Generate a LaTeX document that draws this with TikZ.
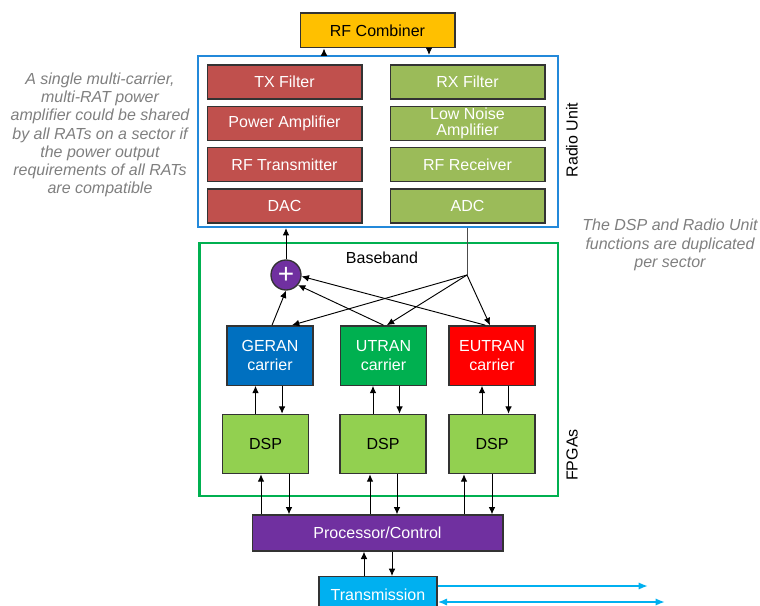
\documentclass[tikz,border=0pt]{standalone}
\usepackage{fontspec}
\setmainfont{Liberation Sans}
\usetikzlibrary{arrows.meta, positioning, calc}
\definecolor{combYellow}{HTML}{FFC000}
\definecolor{ruBlue}{HTML}{2389DA}
\definecolor{txRed}{HTML}{C0504D}
\definecolor{rxGreen}{HTML}{9BBB59}
\definecolor{bbGreen}{HTML}{00B050}
\definecolor{rfPurple}{HTML}{7030A0}
\definecolor{geranBlue}{HTML}{0070C0}
\definecolor{utranGreen}{HTML}{00B050}
\definecolor{eutranRed}{HTML}{FF0000}
\definecolor{dspGreen}{HTML}{92D050}
\definecolor{transBlue}{HTML}{00B0F0}
\definecolor{noteGray}{HTML}{7F7F7F}

\begin{document}
\begin{tikzpicture}[
        x=0.75pt, y=-0.75pt,
        font=\fontsize{12}{12}\selectfont, node distance=4.5pt,
        >={Latex[length=5.5pt, width=5pt]},
        box/.style={draw=black!80, line width=1pt, minimum width=116pt, minimum height=25.5pt, inner ysep=0pt, align=center, text=white},
        cbox/.style={draw=black!80, line width=1pt, minimum width=64.5pt, minimum height=44.5pt, align=center, text=white, font=\fontsize{12}{14}\selectfont},
        unit/.style={line width=1.6pt},
        plusc/.style={circle, draw=black!80, line width=1pt, fill=rfPurple, text=white, minimum size=22.5pt, inner sep=0pt, font=\fontsize{21}{21}\selectfont},
        arr/.style={->, line width=0.7pt},
        note/.style={font=\fontsize{12}{13.7}\selectfont\itshape, text=noteGray, align=center},
        tline/.style={line width=1.5pt, draw=transBlue, >={Latex[length=7pt, width=5.5pt]}}
    ]
    \useasboundingbox (0,0) rectangle (760,606);
    \clip (0,0) rectangle (760,606);

    % radio unit
    \node[unit, draw=ruBlue, minimum width=270pt, minimum height=128.25pt] (ru) at (378,141.5) {};
    \node[box, fill=txRed] (txf) at (284.5,82) {TX Filter};
    \node[box, fill=txRed, below=of txf] (pa) {Power Amplifier};
    \node[box, fill=txRed, below=of pa] (rftx) {RF Transmitter};
    \node[box, fill=txRed, below=of rftx] (dac) {DAC};
    \node[box, fill=rxGreen, right=20.25pt of txf] (rxf) {RX Filter};
    \node[box, fill=rxGreen, below=of rxf, font=\fontsize{12}{11.5}\selectfont] (lna) {Low Noise\\Amplifier};
    \node[box, fill=rxGreen, below=of lna] (rfrx) {RF Receiver};
    \node[box, fill=rxGreen, below=of rfrx] (adc) {ADC};
    \node[rotate=90] (rulab) at (572,140) {Radio Unit};

    \node[box, fill=combYellow, text=black, minimum height=26pt] (comb) at (377.5,30.5) {RF Combiner};
    \draw[arr] (324,0 |- ru.north) -- (324,0 |- comb.south);
    \draw[arr] (429,0 |- comb.south) -- (429,0 |- ru.north);

    % baseband
    \node[unit, draw=bbGreen, line width=2pt, minimum width=269pt, minimum height=189.75pt] (bb) at (378.5,369.5) {};
    \node (bblab) at (382,258) {Baseband};
    \node[rotate=90] (fplab) at (572,455) {FPGAs};
    \node[plusc] (plus) at (286,275) {+};
    \coordinate (jn) at (467,275);

    \node[cbox, fill=geranBlue] (geran) at (270,355.5) {GERAN\\carrier};
    \node[cbox, fill=utranGreen] (utran) at (383.5,355.5) {UTRAN\\carrier};
    \node[cbox, fill=eutranRed] (eutran) at (492,355.5) {EUTRAN\\carrier};
    \node[cbox, fill=dspGreen, text=black] (dsp1) at (265.5,444) {DSP};
    \node[cbox, fill=dspGreen, text=black] (dsp2) at (383,444) {DSP};
    \node[cbox, fill=dspGreen, text=black] (dsp3) at (492,444) {DSP};

    \draw[arr] (plus.north) -- (plus.north |- ru.south);
    \draw[line width=0.7pt, black!70] (jn |- ru.south) -- (jn);
    \draw[arr] (jn) -- ([xshift=16.5pt]geran.north);
    \draw[arr] (jn) -- ([xshift=2.5pt]utran.north);
    \draw[arr] (jn) -- ([xshift=-1.5pt]eutran.north);
    \draw[arr] ([xshift=1.5pt]geran.north) -- (plus.south);
    \draw[arr] (utran.north) -- (plus.-40);
    \draw[arr] ([xshift=-5pt]eutran.north) -- (plus.-5);

    \foreach \c/\d in {geran/dsp1, utran/dsp2, eutran/dsp3} {
        \draw[arr] ([xshift=-7.5pt]\d.north) -- ([xshift=-7.5pt]\d.north |- \c.south);
        \draw[arr] ([xshift=12.4pt]\d.north |- \c.south) -- ([xshift=12.4pt]\d.north);
    }

    % processor and transmission
    \node[box, fill=rfPurple, minimum width=188pt, minimum height=27pt] (proc) at (377.5,533) {Processor/Control};
    \node[box, fill=transBlue, minimum width=88.5pt, minimum height=27pt, anchor=north] (trans) at (378,576) {Transmission};

    \foreach \x in {261, 370, 464}
        \draw[arr] (\x,0 |- proc.north) -- (\x,0 |- dsp1.south);
    \foreach \x in {289, 397, 492}
        \draw[arr] (\x,0 |- dsp1.south) -- (\x,0 |- proc.north);

    \draw[arr] (364,0 |- trans.north) -- (364,0 |- proc.south);
    \draw[arr] (392,0 |- proc.south) -- (392,0 |- trans.north);

    \coordinate (out1) at (648,586);
    \coordinate (out2) at (665,602);
    \draw[tline, ->] (trans.east |- out1) -- (out1);
    \draw[tline, <->] (trans.east |- out2) -- (out2);

    % notes
    \node[note] (ampnote) at (100,135) {A single multi-carrier,\\multi-RAT power\\amplifier could be shared\\by all RATs on a sector if\\the power output\\requirements of all RATs\\are compatible};
    \node[note] (dupnote) at (670,245) {The DSP and Radio Unit\\functions are duplicated\\per sector};
\end{tikzpicture}
\end{document}
